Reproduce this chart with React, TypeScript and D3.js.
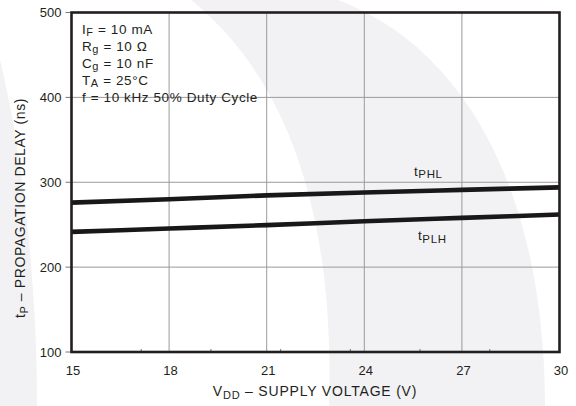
import * as d3 from "d3";
import { useEffect, useRef } from "react";

// supply voltage (V) sample points
const voltage = [15, 18, 21, 24, 27, 30];
// propagation delay (ns)
const tPHL = [276, 280, 284.5, 288, 291, 294];
const tPLH = [241.5, 245.5, 249.5, 254, 258, 262];

const xTicks = [15, 18, 21, 24, 27, 30];
const yTicks = [100, 200, 300, 400, 500];

const notes = [
    { main: "I", sub: "F", rest: " = 10 mA" },
    { main: "R", sub: "g", rest: " = 10 Ω" },
    { main: "C", sub: "g", rest: " = 10 nF" },
    { main: "T", sub: "A", rest: " = 25°C" },
    { main: "f = 10 kHz 50% Duty Cycle", sub: "", rest: "" },
];

export default function App() {
    const svgRef = useRef<SVGSVGElement | null>(null);

    useEffect(() => {
        if (!svgRef.current) return;
        const svg = d3.select(svgRef.current);
        svg.selectAll("*").remove();

        const font = "'Liberation Sans', Arial, Helvetica, sans-serif";
        const ink = "#231f20";

        // faint watermark swooshes behind the chart
        const wm = "#f2f2f5";
        svg.append("path")
            .attr("d", "M0,60 C22,150 37,280 37,406 L0,406 Z")
            .attr("fill", wm);
        svg.append("path")
            .attr("d", "M191,0 C290,80 335,220 329,406 L545,406 C545,200 470,50 338,0 Z")
            .attr("fill", wm);

        const x = d3.scaleLinear().domain([15, 30]).range([71.5, 559.5]);
        const y = d3.scaleLinear().domain([100, 500]).range([352, 12.5]);

        const g = svg.append("g");

        // grid
        g.selectAll("line.vgrid")
            .data(xTicks.slice(1, -1))
            .join("line")
            .attr("x1", (d) => x(d))
            .attr("x2", (d) => x(d))
            .attr("y1", y(500))
            .attr("y2", y(100))
            .attr("stroke", "#9a9a9a")
            .attr("stroke-width", 1);
        g.selectAll("line.hgrid")
            .data(yTicks.slice(1, -1))
            .join("line")
            .attr("x1", x(15))
            .attr("x2", x(30))
            .attr("y1", (d) => y(d))
            .attr("y2", (d) => y(d))
            .attr("stroke", "#9a9a9a")
            .attr("stroke-width", 1);

        // minor ticks on the bottom edge (7 divisions)
        const minor = d3.range(1, 7).map((k) => 15 + (k * 15) / 7);
        g.selectAll("line.minor")
            .data(minor)
            .join("line")
            .attr("x1", (d) => x(d))
            .attr("x2", (d) => x(d))
            .attr("y1", y(100))
            .attr("y2", y(100) - 3)
            .attr("stroke", "#777")
            .attr("stroke-width", 1);

        // outward y ticks
        g.selectAll("line.ytick")
            .data(yTicks)
            .join("line")
            .attr("x1", x(15) - 6)
            .attr("x2", x(15))
            .attr("y1", (d) => y(d))
            .attr("y2", (d) => y(d))
            .attr("stroke", "#777")
            .attr("stroke-width", 1);

        // curves
        const line = d3
            .line<number>()
            .x((d, i) => x(voltage[i]))
            .y((d) => y(d))
            .curve(d3.curveMonotoneX);

        [tPHL, tPLH].forEach((s) => {
            g.append("path")
                .datum(s)
                .attr("fill", "none")
                .attr("stroke", "#1a1718")
                .attr("stroke-width", 4.6)
                .attr("d", line);
        });

        // frame
        g.append("rect")
            .attr("x", x(15))
            .attr("y", y(500))
            .attr("width", x(30) - x(15))
            .attr("height", y(100) - y(500))
            .attr("fill", "none")
            .attr("stroke", ink)
            .attr("stroke-width", 2.6);

        // tick labels
        g.selectAll("text.ylab")
            .data(yTicks)
            .join("text")
            .attr("x", x(15) - 10)
            .attr("y", (d) => y(d))
            .attr("dy", "0.36em")
            .attr("text-anchor", "end")
            .attr("font-family", font)
            .attr("font-size", 13)
            .attr("fill", ink)
            .text((d) => d);
        g.selectAll("text.xlab")
            .data(xTicks)
            .join("text")
            .attr("x", (d) => x(d) + 1.5)
            .attr("y", 375)
            .attr("text-anchor", "middle")
            .attr("font-family", font)
            .attr("font-size", 13)
            .attr("fill", ink)
            .text((d) => d);

        // conditions block
        notes.forEach((n, i) => {
            const t = g.append("text")
                .attr("x", 82)
                .attr("y", 33.5 + i * 17)
                .attr("font-family", font)
                .attr("font-size", 13.5)
                .attr("letter-spacing", 0.6)
                .attr("fill", ink);
            t.append("tspan").text(n.main);
            if (n.sub) {
                t.append("tspan").attr("font-size", 11).attr("dy", 2.5).text(n.sub);
                t.append("tspan").attr("dy", -2.5).text(n.rest);
            }
        });

        // series labels
        const seriesLabel = (lx: number, ly: number, sub: string) => {
            const t = g.append("text")
                .attr("x", lx)
                .attr("y", ly)
                .attr("font-family", font)
                .attr("font-size", 13.5)
                .attr("letter-spacing", 0.6)
                .attr("fill", ink);
            t.append("tspan").text("t");
            t.append("tspan").attr("font-size", 11.5).attr("dy", 2.5).text(sub);
        };
        seriesLabel(414, 175.5, "PHL");
        seriesLabel(418, 240, "PLH");

        // axis titles
        const xt = g.append("text")
            .attr("x", 315)
            .attr("y", 396)
            .attr("text-anchor", "middle")
            .attr("font-family", font)
            .attr("font-size", 14)
            .attr("letter-spacing", 0.8)
            .attr("fill", ink);
        xt.append("tspan").text("V");
        xt.append("tspan").attr("font-size", 11).attr("dy", 2.5).text("DD");
        xt.append("tspan").attr("dy", -2.5).text(" – SUPPLY VOLTAGE (V)");

        const yt = g.append("text")
            .attr("transform", "translate(25,208) rotate(-90)")
            .attr("text-anchor", "middle")
            .attr("font-family", font)
            .attr("font-size", 14)
            .attr("letter-spacing", 0.6)
            .attr("fill", ink);
        yt.append("tspan").text("t");
        yt.append("tspan").attr("font-size", 11).attr("dy", 2.5).text("P");
        yt.append("tspan").attr("dy", -2.5).text(" – PROPAGATION DELAY (ns)");
    }, []);

    return (
        <svg
            ref={svgRef}
            width={576}
            height={406}
            style={{ position: "absolute", left: 0, top: 0, background: "#fff" }}
        />
    );
}
